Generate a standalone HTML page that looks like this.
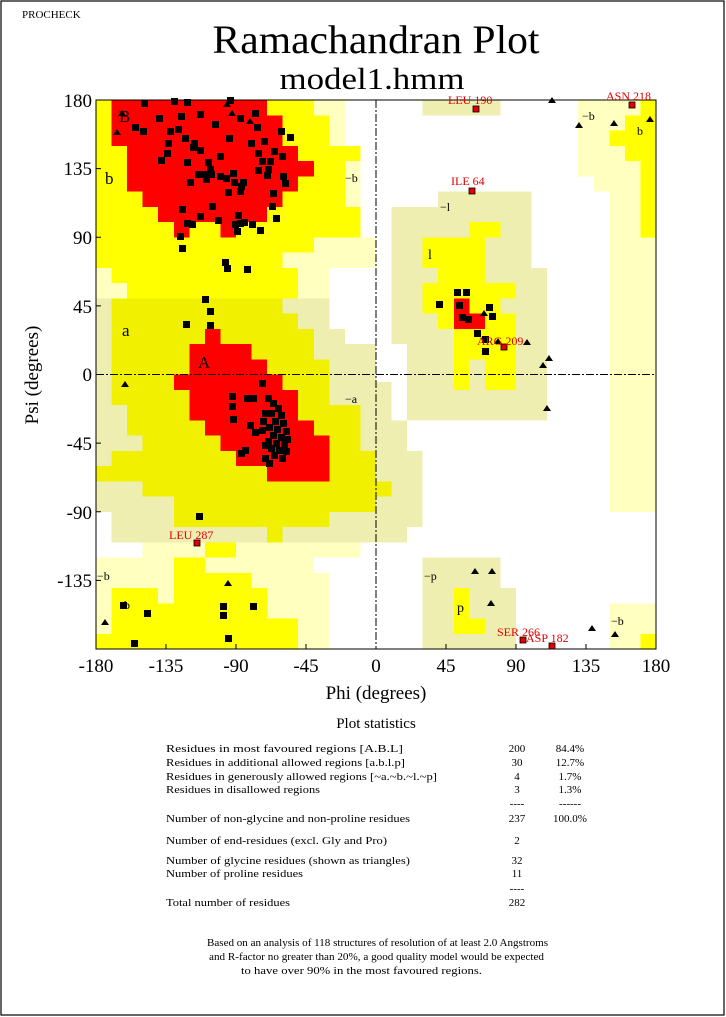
<!DOCTYPE html>
<html><head><meta charset="utf-8"><style>
html,body{margin:0;padding:0;background:#fff}
svg{display:block}
text{font-family:"Liberation Serif",serif}
</style></head><body>
<svg width="726" height="1017" viewBox="0 0 726 1017" xmlns="http://www.w3.org/2000/svg">
<rect x="1" y="1" width="723" height="1014" fill="#fff" stroke="#000" stroke-width="1.2"/>
<text x="22" y="18" font-size="11">PROCHECK</text>
<text x="376" y="53" font-size="40" text-anchor="middle" textLength="327" lengthAdjust="spacingAndGlyphs">Ramachandran Plot</text>
<text x="372" y="89" font-size="31" text-anchor="middle" textLength="185" lengthAdjust="spacingAndGlyphs">model1.hmm</text>

<g transform="matrix(1.5556 0 0 -1.525 376 374.5)" shape-rendering="crispEdges">
<g fill="#ffffc0">
<rect x="-180" y="150" width="160" height="30"/>
<rect x="-180" y="90" width="170" height="60"/>
<rect x="-180" y="70" width="180" height="20"/>
<rect x="-180" y="50" width="150" height="20"/>
<rect x="-150" y="-120" width="140" height="10"/>
<rect x="-180" y="-130" width="140" height="10"/>
<rect x="-180" y="-180" width="150" height="50"/>
<rect x="130" y="130" width="50" height="50"/>
<rect x="140" y="120" width="40" height="10"/>
<rect x="150" y="-90" width="30" height="210"/>
<rect x="150" y="-180" width="30" height="30"/>
</g>
<g fill="#eeeeb0">
<rect x="-180" y="30" width="150" height="20"/>
<rect x="-180" y="20" width="160" height="10"/>
<rect x="-180" y="-110" width="180" height="130"/>
<rect x="0" y="-30" width="10" height="25"/>
<rect x="0" y="-50" width="20" height="20"/>
<rect x="0" y="-100" width="30" height="50"/>
<rect x="0" y="-110" width="20" height="10"/>
<rect x="30" y="170" width="50" height="10"/>
<rect x="40" y="110" width="60" height="10"/>
<rect x="10" y="70" width="90" height="40"/>
<rect x="10" y="20" width="100" height="50"/>
<rect x="20" y="-30" width="90" height="50"/>
<rect x="30" y="-180" width="50" height="60"/>
<rect x="80" y="-180" width="10" height="40"/>
</g>
<rect x="-180" y="-110" width="10" height="20" fill="#fff"/>
<g fill="#ffff00">
<rect x="-180" y="170" width="140" height="10"/>
<rect x="-180" y="150" width="150" height="20"/>
<rect x="-180" y="140" width="170" height="10"/>
<rect x="-180" y="110" width="160" height="30"/>
<rect x="-180" y="90" width="170" height="20"/>
<rect x="-180" y="80" width="140" height="10"/>
<rect x="-180" y="70" width="120" height="10"/>
<rect x="-170" y="60" width="120" height="10"/>
<rect x="-160" y="50" width="110" height="10"/>
<rect x="-110" y="-120" width="20" height="10"/>
<rect x="-130" y="-130" width="20" height="10"/>
<rect x="-130" y="-140" width="50" height="10"/>
<rect x="-170" y="-150" width="30" height="10"/>
<rect x="-130" y="-150" width="60" height="10"/>
<rect x="-170" y="-160" width="100" height="10"/>
<rect x="-170" y="-170" width="120" height="10"/>
<rect x="-180" y="-180" width="130" height="10"/>
<rect x="170" y="90" width="10" height="90"/>
<rect x="160" y="140" width="10" height="30"/>
<rect x="150" y="150" width="10" height="10"/>
<rect x="170" y="-180" width="10" height="10"/>
<rect x="60" y="90" width="20" height="10"/>
<rect x="30" y="70" width="40" height="20"/>
<rect x="40" y="60" width="30" height="10"/>
<rect x="30" y="50" width="60" height="10"/>
<rect x="30" y="40" width="50" height="10"/>
<rect x="40" y="30" width="50" height="10"/>
<rect x="50" y="10" width="40" height="20"/>
<rect x="50" y="-10" width="10" height="20"/>
<rect x="70" y="-10" width="20" height="20"/>
<rect x="50" y="-170" width="10" height="30"/>
<rect x="50" y="-170" width="20" height="10"/>
</g>
<g fill="#f0f000">
<rect x="-170" y="40" width="110" height="10"/>
<rect x="-170" y="30" width="120" height="10"/>
<rect x="-170" y="10" width="130" height="20"/>
<rect x="-170" y="-20" width="140" height="30"/>
<rect x="-160" y="-40" width="150" height="20"/>
<rect x="-150" y="-50" width="140" height="10"/>
<rect x="-170" y="-60" width="170" height="10"/>
<rect x="-180" y="-70" width="180" height="10"/>
<rect x="-150" y="-80" width="150" height="10"/>
<rect x="-130" y="-90" width="130" height="10"/>
<rect x="-130" y="-100" width="100" height="10"/>
<rect x="-70" y="-110" width="10" height="10"/>
<rect x="0" y="-80" width="10" height="10"/>
</g>
<g fill="#ff0000">
<rect x="-170" y="170" width="100" height="10"/>
<rect x="-170" y="150" width="110" height="20"/>
<rect x="-160" y="140" width="110" height="10"/>
<rect x="-160" y="130" width="120" height="10"/>
<rect x="-160" y="120" width="110" height="10"/>
<rect x="-150" y="110" width="90" height="10"/>
<rect x="-140" y="100" width="70" height="10"/>
<rect x="-130" y="90" width="10" height="10"/>
<rect x="-100" y="90" width="10" height="10"/>
<rect x="-110" y="20" width="10" height="10"/>
<rect x="-120" y="10" width="40" height="10"/>
<rect x="-120" y="0" width="50" height="10"/>
<rect x="-130" y="-10" width="70" height="10"/>
<rect x="-120" y="-30" width="70" height="20"/>
<rect x="-110" y="-40" width="70" height="10"/>
<rect x="-100" y="-50" width="70" height="10"/>
<rect x="-90" y="-60" width="60" height="10"/>
<rect x="-70" y="-70" width="40" height="10"/>
<rect x="50" y="30" width="10" height="20"/>
<rect x="50" y="30" width="20" height="10"/>
</g>
</g>

<g stroke="#000" fill="none">
<rect x="96" y="100" width="560" height="549" stroke-width="1"/>
<line x1="376" y1="100" x2="376" y2="649" stroke-dasharray="8,2,2,2"/>
<line x1="96" y1="374.5" x2="656" y2="374.5" stroke-dasharray="8,2,2,2"/>
<path d="M96 100h5M96 168.6h5M96 237.2h5M96 305.9h5M96 374.5h5M96 443.1h5M96 511.8h5M96 580.4h5M96 649h5"/>
<path d="M96 649v-5M166 649v-5M236 649v-5M306 649v-5M446 649v-5M516 649v-5M586 649v-5M656 649v-5"/>
</g>
<g font-size="19" text-anchor="end">
<text x="92" y="107">180</text><text x="92" y="175">135</text><text x="92" y="244">90</text><text x="92" y="313">45</text><text x="92" y="381">0</text><text x="92" y="450">-45</text><text x="92" y="519">-90</text><text x="92" y="587">-135</text>
</g>
<g font-size="19" text-anchor="middle">
<text x="96" y="672">-180</text><text x="166" y="672">-135</text><text x="236" y="672">-90</text><text x="306" y="672">-45</text><text x="376" y="672">0</text><text x="446" y="672">45</text><text x="516" y="672">90</text><text x="586" y="672">135</text><text x="656" y="672">180</text>
<text x="376" y="699">Phi (degrees)</text>
<text transform="translate(38,375) rotate(-90)">Psi (degrees)</text>
</g>

<g font-size="17">
<text x="119" y="122">B</text><text x="105" y="184">b</text><text x="122" y="336">a</text><text x="198" y="368">A</text>
<text x="428" y="259" font-size="14">l</text><text x="457" y="612" font-size="14">p</text>
</g>
<g font-size="12">
<text x="345" y="182">−b</text><text x="345" y="403">−a</text><text x="440" y="211">−l</text><text x="582" y="120">−b</text><text x="637" y="135">b</text>
<text x="424" y="580">−p</text><text x="97" y="580">−b</text><text x="124" y="609">b</text><text x="611" y="625">−b</text>
</g>

<g fill="#000">
<path d="M141 100h7v7h-7zM171 98h7v7h-7zM184 99h7v7h-7zM227 97h7v7h-7zM197 111h7v7h-7zM156 115h7v7h-7zM175 126h7v7h-7zM182 135h7v7h-7zM165 140h7v7h-7zM140 128h7v7h-7zM167 128h7v7h-7zM237 115h7v7h-7zM252 110h7v7h-7zM254 124h7v7h-7zM226 135h7v7h-7zM217 153h7v7h-7zM190 144h7v7h-7zM184 159h7v7h-7zM158 157h7v7h-7zM164 150h7v7h-7zM195 171h7v7h-7zM187 179h7v7h-7zM202 171h7v7h-7zM203 176h7v7h-7zM205 159h7v7h-7zM208 171h7v7h-7zM207 166h7v7h-7zM230 170h7v7h-7zM217 173h7v7h-7zM231 179h7v7h-7zM238 183h7v7h-7zM240 179h7v7h-7zM237 188h7v7h-7zM225 189h7v7h-7zM223 175h7v7h-7zM261 138h7v7h-7zM255 150h7v7h-7zM259 158h7v7h-7zM255 167h7v7h-7zM265 166h7v7h-7zM267 158h7v7h-7zM278 128h7v7h-7zM287 134h7v7h-7zM271 148h7v7h-7zM279 153h7v7h-7zM264 172h7v7h-7zM280 173h7v7h-7zM270 190h7v7h-7zM282 180h7v7h-7zM273 215h7v7h-7zM269 203h7v7h-7zM179 206h7v7h-7zM189 221h7v7h-7zM184 220h7v7h-7zM197 213h7v7h-7zM209 203h7v7h-7zM215 217h7v7h-7zM237 220h7v7h-7zM241 219h7v7h-7zM232 221h7v7h-7zM234 228h7v7h-7zM249 221h7v7h-7zM177 233h7v7h-7zM179 245h7v7h-7zM222 259h7v7h-7zM224 265h7v7h-7zM244 266h7v7h-7zM202 296h7v7h-7zM207 308h7v7h-7zM183 321h7v7h-7zM207 322h7v7h-7zM132 124h7v7h-7zM191 140h7v7h-7zM197 147h7v7h-7zM235 212h7v7h-7zM257 227h7v7h-7zM212 121h7v7h-7zM178 113h7v7h-7zM248 140h7v7h-7z"/>
<path d="M259 380h7v7h-7zM229 393h7v7h-7zM229 403h7v7h-7zM230 416h7v7h-7zM244 395h7v7h-7zM250 395h7v7h-7zM247 422h7v7h-7zM252 429h7v7h-7zM259 427h7v7h-7zM242 447h7v7h-7zM238 450h7v7h-7zM262 455h7v7h-7zM266 460h7v7h-7zM196 513h7v7h-7z"/>
<path d="M265 395h7v7h-7zM270 400h7v7h-7zM275 405h7v7h-7zM268 410h7v7h-7zM278 412h7v7h-7zM272 418h7v7h-7zM280 420h7v7h-7zM266 424h7v7h-7zM274 426h7v7h-7zM283 428h7v7h-7zM270 432h7v7h-7zM278 434h7v7h-7zM265 438h7v7h-7zM273 440h7v7h-7zM281 441h7v7h-7zM268 445h7v7h-7zM276 447h7v7h-7zM283 448h7v7h-7zM271 452h7v7h-7zM279 455h7v7h-7zM262 410h7v7h-7zM262 442h7v7h-7zM284 436h7v7h-7zM260 418h7v7h-7z"/>
<path d="M120 602h7v7h-7zM144 610h7v7h-7zM131 640h7v7h-7zM220 603h7v7h-7zM220 612h7v7h-7zM250 603h7v7h-7zM225 635h7v7h-7z"/>
<path d="M454 289h7v7h-7zM463 289h7v7h-7zM436 301h7v7h-7zM456 302h7v7h-7zM465 316h7v7h-7zM486 304h7v7h-7zM489 313h7v7h-7zM474 330h7v7h-7zM482 336h7v7h-7zM482 348h7v7h-7zM459 314h7v7h-7z"/>
</g>
<g fill="#000">
<path d="M122 110l4 6h-8zM117 129l4 6h-8zM227 101l4 6h-8zM232 110l4 6h-8zM250 118l4 6h-8zM125 381l4 6h-8zM105 619l4 6h-8zM228 580l4 6h-8zM484 310l4 6h-8zM498 338l4 6h-8zM527 339l4 6h-8zM549 355l4 6h-8zM543 362l4 6h-8zM547 405l4 6h-8zM552 97l4 6h-8zM579 122l4 6h-8zM614 120l4 6h-8zM650 116l4 6h-8zM475 568l4 6h-8zM492 568l4 6h-8zM491 600l4 6h-8zM592 625l4 6h-8zM615 631l4 6h-8z"/>
</g>
<g fill="#e00000" stroke="#000" stroke-width="0.8">
<rect x="194" y="540" width="6" height="6"/><rect x="469" y="188" width="6" height="6"/><rect x="473" y="106" width="6" height="6"/><rect x="629" y="102" width="6" height="6"/><rect x="501" y="344" width="6" height="6"/><rect x="520" y="637" width="6" height="6"/><rect x="549" y="643" width="6" height="6"/>
</g>
<g fill="#e00000" font-size="12">
<text x="169" y="539">LEU 287</text><text x="451" y="185">ILE 64</text><text x="448" y="104">LEU 190</text><text x="606" y="100">ASN 218</text><text x="477" y="345">ARG 209</text><text x="497" y="636">SER 266</text><text x="526" y="642">ASP 182</text>
</g>

<text x="376" y="728" font-size="15" text-anchor="middle">Plot statistics</text>
<g font-size="11" lengthAdjust="spacingAndGlyphs">
<text x="166" y="752" textLength="237" lengthAdjust="spacingAndGlyphs">Residues in most favoured regions  [A.B.L]</text>
<text x="166" y="766" textLength="239" lengthAdjust="spacingAndGlyphs">Residues in additional allowed regions  [a.b.l.p]</text>
<text x="166" y="780" textLength="271" lengthAdjust="spacingAndGlyphs">Residues in generously allowed regions  [~a.~b.~l.~p]</text>
<text x="166" y="793" textLength="154" lengthAdjust="spacingAndGlyphs">Residues in disallowed regions</text>
<text x="166" y="822" textLength="244" lengthAdjust="spacingAndGlyphs">Number of non-glycine and non-proline residues</text>
<text x="166" y="844" textLength="221" lengthAdjust="spacingAndGlyphs">Number of end-residues (excl. Gly and Pro)</text>
<text x="166" y="864" textLength="244" lengthAdjust="spacingAndGlyphs">Number of glycine residues (shown as triangles)</text>
<text x="166" y="877" textLength="137" lengthAdjust="spacingAndGlyphs">Number of proline residues</text>
<text x="166" y="906" textLength="124" lengthAdjust="spacingAndGlyphs">Total number of residues</text>
</g>
<g font-size="11" text-anchor="middle">
<text x="517" y="752">200</text><text x="517" y="766">30</text><text x="517" y="780">4</text><text x="517" y="793">3</text><text x="517" y="807">----</text><text x="517" y="822">237</text><text x="517" y="844">2</text><text x="517" y="864">32</text><text x="517" y="877">11</text><text x="517" y="892">----</text><text x="517" y="906">282</text>
<text x="570" y="752">84.4%</text><text x="570" y="766">12.7%</text><text x="570" y="780">1.7%</text><text x="570" y="793">1.3%</text><text x="570" y="807">------</text><text x="570" y="822">100.0%</text>
</g>
<g font-size="10">
<text x="207" y="946" textLength="341" lengthAdjust="spacingAndGlyphs">Based on an analysis of 118 structures of resolution of at least 2.0 Angstroms</text>
<text x="209" y="960" textLength="335" lengthAdjust="spacingAndGlyphs">and R-factor no greater than 20%, a good quality model would be expected</text>
<text x="241" y="974" textLength="241" lengthAdjust="spacingAndGlyphs">to have over 90% in the most favoured regions.</text>
</g>
</svg>
</body></html>
